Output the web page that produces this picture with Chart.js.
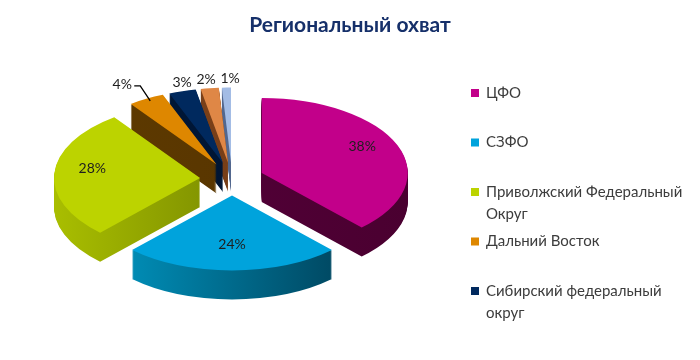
<!DOCTYPE html>
<html><head><meta charset="utf-8">
<script src="https://cdn.jsdelivr.net/npm/chart.js@4/dist/chart.umd.min.js"></script>
<style>html,body{margin:0;padding:0;background:#fff}#wrap{width:700px;height:360px;position:relative}</style>
</head><body><div id="wrap"><canvas id="c"></canvas></div>
<script>
const categories = ['ЦФО','СЗФО','Приволжский Федеральный Округ','Дальний Восток','Сибирский федеральный округ','',''];
const shares = [38,24,28,4,3,2,1];
const valueLabels = ['38%','24%','28%','4%','3%','2%','1%'];
const legendLines = [['ЦФО'],['СЗФО'],['Приволжский Федеральный','Округ'],['Дальний Восток'],['Сибирский федеральный','округ']];
const topColors = ['#C2008A','#00A3DC','#BCD300','#DE8700','#00295E','#DF8746','#A3BCE5'];
const sideLeft  = ['#55003A','#009AC6','#A9BE00','#5E3A00','#00183A','#84461C','#5A7098'];
const sideRight = ['#4A0030','#003B52','#5F6E00','#553300','#00132E','#6A3614','#4A5E84'];

// 3D pie geometry (screen px)
const CX = 232, CY = 179, RX = 146, RY = 75, DEPTH = 29, EXPLODE = 32;
const FONT = 'Lato, "Open Sans", sans-serif';

function sideOptions(o, fill){
  return {
    offset: 0, spacing: 0, circular: true, borderAlign: 'center',
    backgroundColor: fill, borderColor: fill, borderWidth: 0, borderRadius: 0,
    borderJoinStyle: undefined, borderDash: [], borderDashOffset: 0, selfJoin: false
  };
}

const pie3d = {
  id: 'pie3d',
  beforeDatasetsDraw(chart){
    const meta = chart.getDatasetMeta(0);
    const a0 = meta.data[0];
    const r = a0.outerRadius;
    const sx = RX / r, sy = RY / r;
    const E = EXPLODE / sx;
    const ctx = chart.ctx;
    ctx.save();
    ctx.translate(CX, CY); ctx.scale(sx, sy); ctx.translate(-a0.x, -a0.y);
    const fills = meta.data.map((arc, i) => {
      const g = ctx.createLinearGradient(a0.x - r, 0, a0.x + r, 0);
      g.addColorStop(0, sideLeft[i]); g.addColorStop(1, sideRight[i]);
      return g;
    });
    const ex = arc => { const m = (arc.startAngle + arc.endAngle) / 2; return [Math.cos(m) * E, Math.sin(m) * E]; };
    // extruded sides
    for (let j = DEPTH; j >= 1; j--) {
      meta.data.forEach((arc, i) => {
        const [dx, dy] = ex(arc);
        const saved = arc.options;
        arc.options = sideOptions(saved, fills[i]);
        ctx.save(); ctx.translate(dx, dy + j / sy);
        arc.draw(ctx);
        ctx.restore();
        arc.options = saved;
      });
    }
    // tops
    meta.data.forEach(arc => {
      const [dx, dy] = ex(arc);
      ctx.save(); ctx.translate(dx, dy); arc.draw(ctx); ctx.restore();
    });
    ctx.restore();

    // value labels
    const P = (ux, uy) => [CX + (ux - a0.x) * sx, CY + (uy - a0.y) * sy];
    ctx.save();
    ctx.font = '14px ' + FONT;
    ctx.fillStyle = '#1e1e1e';
    ctx.textAlign = 'center'; ctx.textBaseline = 'middle';
    const small = [];
    meta.data.forEach((arc, i) => {
      const mid = (arc.startAngle + arc.endAngle) / 2;
      if (shares[i] >= 10) {
        const d = 0.74 * r + E;
        const [x, y] = P(a0.x + Math.cos(mid) * d, a0.y + Math.sin(mid) * d);
        ctx.fillText(valueLabels[i], x, y - 6);
      } else {
        const d = r + E;
        const [x, y] = P(a0.x + Math.cos(mid) * d, a0.y + Math.sin(mid) * d);
        small.push({i, x, y});
      }
    });
    const first = small.shift();
    const lx = first.x - 24, ly = first.y - 14;
    ctx.fillText(valueLabels[first.i], lx, ly);
    ctx.strokeStyle = '#000'; ctx.lineWidth = 1.3;
    ctx.beginPath();
    ctx.moveTo(lx + 12, ly + 1); ctx.lineTo(lx + 18, ly + 1); ctx.lineTo(first.x + 4, first.y + 2);
    ctx.stroke();
    const xs = small.map(s => s.x);
    for (let it = 0; it < 20; it++) {
      for (let k = 0; k < xs.length - 1; k++) {
        if (xs[k + 1] - xs[k] < 24) { const m = (xs[k] + xs[k + 1]) / 2; xs[k] = m - 12; xs[k + 1] = m + 12; }
      }
    }
    small.forEach((s, k) => ctx.fillText(valueLabels[s.i], xs[k], s.y - 9));
    ctx.restore();
    return false;
  },
  afterDraw(chart){
    const ctx = chart.ctx;
    ctx.save();
    ctx.font = '15px ' + FONT;
    ctx.textAlign = 'left'; ctx.textBaseline = 'middle';
    const x0 = 471, y0 = 93, step = 49.5, lh = 22;
    legendLines.forEach((lines, i) => {
      const y = y0 + i * step;
      ctx.fillStyle = topColors[i];
      ctx.fillRect(x0, y - 4, 8, 8);
      ctx.fillStyle = '#3c3c3c';
      lines.forEach((t, k) => ctx.fillText(t, x0 + 15, y + k * lh));
    });
    ctx.restore();
  }
};

new Chart(document.getElementById('c'), {
  type: 'pie',
  data: {
    labels: categories,
    datasets: [{ data: shares, backgroundColor: topColors, borderWidth: 0 }]
  },
  options: {
    responsive: true, maintainAspectRatio: false, animation: false,
    events: [],
    layout: { padding: { left: 20, right: 20, bottom: 10 } },
    plugins: {
      legend: { display: false },
      tooltip: { enabled: false },
      title: {
        display: true, text: 'Региональный охват', color: '#16306A',
        font: { family: FONT, size: 21, weight: 'bold' },
        padding: { top: 13, bottom: 10 }
      }
    }
  },
  plugins: [pie3d]
});
</script>
</body></html>
